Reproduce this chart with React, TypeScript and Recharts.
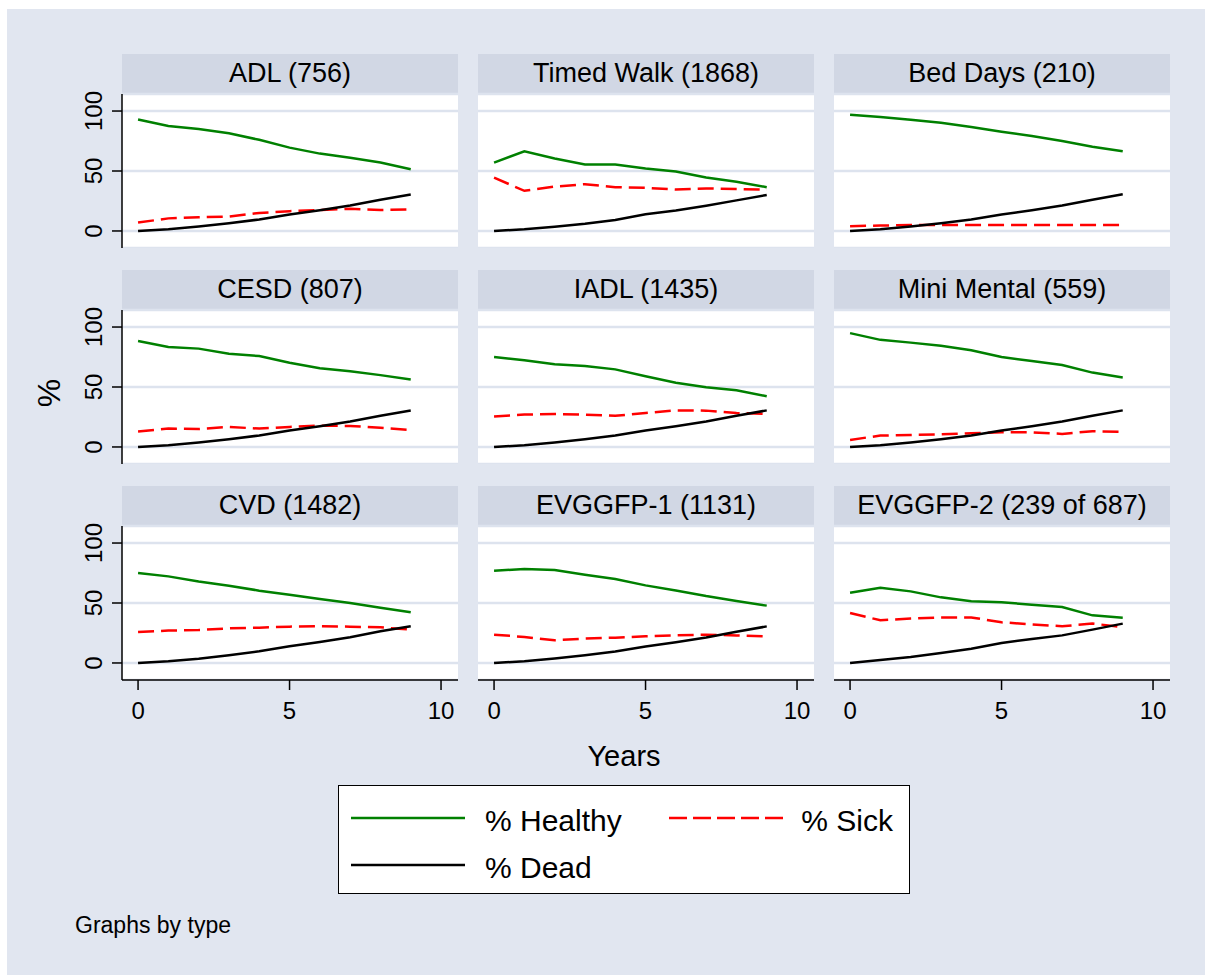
import { LineChart, Line, XAxis, YAxis, CartesianGrid } from "recharts";

const YEARS = [0, 1, 2, 3, 4, 5, 6, 7, 8, 9];

const TITLES = [
  "ADL (756)",
  "Timed Walk (1868)",
  "Bed Days (210)",
  "CESD (807)",
  "IADL (1435)",
  "Mini Mental (559)",
  "CVD (1482)",
  "EVGGFP-1 (1131)",
  "EVGGFP-2 (239 of 687)",
];

const HEALTHY = [
  [93, 87.5, 85, 81.5, 76, 69.5, 64.5, 61, 57, 51.5],
  [57, 66.5, 60.5, 55.5, 55.5, 52, 49.5, 44.5, 41, 36.5],
  [97, 95, 92.8, 90.3, 86.7, 82.8, 79.2, 75, 70.3, 66.4],
  [88.3, 83.3, 82, 77.8, 75.8, 70.2, 65.7, 63.2, 59.9, 56.3],
  [75, 72.3, 69, 67.5, 64.7, 59, 53.5, 49.8, 47.3, 42.3],
  [94.9, 89.3, 87, 84.3, 80.7, 75, 71.7, 68.3, 62, 58],
  [75, 72.2, 68, 64.4, 60.3, 56.9, 53.3, 50, 46.1, 42.2],
  [76.9, 78.3, 77.5, 73.6, 70, 64.7, 60.5, 55.8, 51.7, 47.8],
  [58.6, 62.8, 59.7, 54.7, 51.4, 50.6, 48.6, 46.7, 39.7, 37.8],
];

const SICK = [
  [7, 10.5, 11.5, 12, 15, 16.5, 17.5, 18.5, 17.5, 18],
  [44.5, 33.5, 37, 39, 36.5, 36, 34.5, 35.5, 35, 34.5],
  [4, 4.5, 5, 5, 5, 5, 5, 5, 5, 5],
  [12.8, 15.3, 15, 16.7, 15.3, 16.7, 17.8, 17.5, 16, 14.2],
  [25.5, 27, 27.5, 27, 26, 28.3, 30.5, 30.3, 28.3, 27.5],
  [5.9, 9.5, 10, 10.6, 11.4, 12.2, 12.2, 10.9, 13.2, 12.6],
  [25.8, 27, 27.5, 28.9, 29.4, 30.3, 30.6, 30.3, 29.7, 27.8],
  [23.6, 21.7, 18.9, 20.3, 21.1, 22.2, 23, 23.6, 23, 22.2],
  [41.7, 35.6, 37, 38, 38, 33.9, 32.2, 30.6, 32.8, 30],
];

const DEAD = [
  [0, 1.5, 3.7, 6.4, 9.6, 13.8, 17.3, 21.3, 26, 30.4],
  [0, 1.4, 3.6, 6.1, 9.2, 13.9, 17, 21, 25.5, 30],
  [0, 1.5, 3.7, 6.4, 9.6, 13.8, 17.3, 21.3, 26, 30.6],
  [0, 1.5, 3.7, 6.4, 9.6, 13.8, 17.3, 21.3, 26, 30.4],
  [0, 1.5, 3.7, 6.4, 9.6, 13.8, 17.3, 21.3, 26, 30.5],
  [0, 1.5, 3.7, 6.4, 9.6, 13.8, 17.3, 21.3, 26, 30.5],
  [0, 1.4, 3.6, 6.4, 9.7, 13.9, 17.5, 21.4, 26.4, 30.6],
  [0, 1.5, 3.7, 6.4, 9.6, 13.8, 17.3, 21.3, 26, 30.5],
  [0, 2.5, 5, 8.3, 11.9, 16.7, 20, 23, 27.8, 32.8],
];

const X_TICKS = [0, 5, 10];
const Y_TICKS = [0, 50, 100];

const SERIES = [
  { key: "healthy", label: "% Healthy", color: "#008000", dash: undefined },
  { key: "sick", label: "% Sick", color: "#ff0000", dash: "16 7" },
  { key: "dead", label: "% Dead", color: "#000000", dash: undefined },
];

const FONT = '"Liberation Sans", Arial, Helvetica, sans-serif';
const BG = "#e1e6f0";
const TITLE_BG = "#d1d7e4";
const GRID = "#dde3ee";

const COL_X = [122, 478, 834];
const ROW_Y = [94, 310, 526];
const PLOT_W = 336;
const PLOT_H = 154;
const TITLE_H = 40;
const Y_AXIS_W = 80;
const X_AXIS_H = 50;
const TOP_PAD = 24; // room above the plot so the rotated "100" isn't clipped

function YTick(props: any) {
  const { x, y, payload } = props;
  return (
    <text
      transform={`translate(${x - 8},${y}) rotate(-90)`}
      textAnchor="middle"
      fontSize={24}
      fill="#000"
    >
      {payload.value}
    </text>
  );
}

function Panel({ idx }: { idx: number }) {
  const row = Math.floor(idx / 3);
  const col = idx % 3;
  const showY = col === 0;
  const showX = row === 2;
  const yW = showY ? Y_AXIS_W : 0;
  const xH = showX ? X_AXIS_H : 0;
  const left = COL_X[col];
  const top = ROW_Y[row];

  const data = YEARS.map((yr, i) => ({
    year: yr,
    healthy: HEALTHY[idx][i],
    sick: SICK[idx][i],
    dead: DEAD[idx][i],
  }));

  return (
    <>
      <div
        style={{
          position: "absolute",
          left,
          top: top - TITLE_H,
          width: PLOT_W,
          height: TITLE_H,
          background: TITLE_BG,
          fontSize: 27,
          lineHeight: `${TITLE_H - 2}px`,
          textAlign: "center",
          color: "#000",
        }}
      >
        {TITLES[idx]}
      </div>
      <div style={{ position: "absolute", left: left - yW, top: top - TOP_PAD }}>
        <LineChart
          width={PLOT_W + yW}
          height={PLOT_H + xH + TOP_PAD}
          data={data}
          margin={{ top: TOP_PAD, right: 0, bottom: 0, left: 0 }}
        >
          <CartesianGrid vertical={false} fill="#ffffff" stroke={GRID} strokeWidth={2.5} />
          <XAxis
            type="number"
            dataKey="year"
            domain={[-0.53, 10.56]}
            ticks={X_TICKS}
            allowDataOverflow
            hide={!showX}
            height={X_AXIS_H}
            axisLine={{ stroke: "#000", strokeWidth: 1.5 }}
            tickLine={{ stroke: "#000", strokeWidth: 1.5 }}
            tickSize={10}
            tickMargin={12}
            tick={{ fontSize: 24, fill: "#000" }}
          />
          <YAxis
            type="number"
            domain={[-14.2, 114.2]}
            ticks={Y_TICKS}
            allowDataOverflow
            hide={!showY}
            width={Y_AXIS_W}
            axisLine={{ stroke: "#000", strokeWidth: 1.5 }}
            tickLine={{ stroke: "#000", strokeWidth: 1.5 }}
            tickSize={10}
            tickMargin={2}
            tick={<YTick />}
          />
          {SERIES.map((s) => (
            <Line
              key={s.key}
              type="linear"
              dataKey={s.key}
              stroke={s.color}
              strokeWidth={2.5}
              strokeDasharray={s.dash}
              dot={false}
              activeDot={false}
              isAnimationActive={false}
            />
          ))}
        </LineChart>
      </div>
    </>
  );
}

function LegendBox() {
  const cells = [
    { s: SERIES[0], x: 12, y: 32 },
    { s: SERIES[1], x: 330, y: 32 },
    { s: SERIES[2], x: 12, y: 79 },
  ];
  return (
    <div
      style={{
        position: "absolute",
        left: 338,
        top: 785,
        width: 570,
        height: 107,
        background: "#fff",
        border: "1px solid #000",
      }}
    >
      <svg width={570} height={107} style={{ position: "absolute", left: 0, top: 0 }}>
        {cells.map(({ s, x, y }) => (
          <line
            key={s.key}
            x1={x}
            x2={x + 114}
            y1={y}
            y2={y}
            stroke={s.color}
            strokeWidth={2.5}
            strokeDasharray={s.key === "sick" ? "18 6" : undefined}
          />
        ))}
      </svg>
      <div style={{ position: "absolute", left: 146, top: 20, fontSize: 30, lineHeight: 1 }}>
        {SERIES[0].label}
      </div>
      <div style={{ position: "absolute", right: 16, top: 20, fontSize: 30, lineHeight: 1 }}>
        {SERIES[1].label}
      </div>
      <div style={{ position: "absolute", left: 146, top: 67, fontSize: 30, lineHeight: 1 }}>
        {SERIES[2].label}
      </div>
    </div>
  );
}

export default function App() {
  return (
    <div
      style={{
        position: "absolute",
        left: 0,
        top: 0,
        width: 1205,
        height: 975,
        background: "#fff",
        fontFamily: FONT,
        color: "#000",
      }}
    >
      <div style={{ position: "absolute", left: 7, top: 9, width: 1198, height: 966, background: BG }} />
      {TITLES.map((_, i) => (
        <Panel key={i} idx={i} />
      ))}
      <div
        style={{
          position: "absolute",
          left: 49,
          top: 393,
          fontSize: 32,
          lineHeight: 1,
          transform: "translate(-50%, -50%) rotate(-90deg)",
        }}
      >
        %
      </div>
      <div
        style={{
          position: "absolute",
          left: 524,
          width: 200,
          top: 742,
          textAlign: "center",
          fontSize: 29,
          lineHeight: 1,
        }}
      >
        Years
      </div>
      <LegendBox />
      <div style={{ position: "absolute", left: 75, top: 914, fontSize: 23, lineHeight: 1 }}>
        Graphs by type
      </div>
    </div>
  );
}
